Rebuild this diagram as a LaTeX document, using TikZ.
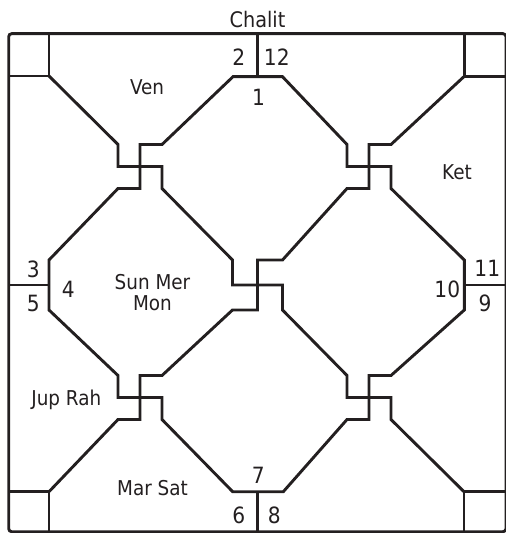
\documentclass[tikz,border=0pt]{standalone}
\usepackage{fontspec}
\setmainfont{DejaVu Sans Condensed}
\definecolor{ink}{RGB}{35,31,32}
\begin{document}
\begin{tikzpicture}[x=1bp,y=-1bp,
  ln/.style={draw=ink, line width=2.9bp, line join=miter},
  num/.style={font=\fontsize{22.5}{24}\selectfont, text=ink, inner sep=0pt, anchor=base},
  pl/.style={font=\fontsize{20.5}{22}\selectfont, text=ink, inner sep=0pt, anchor=base},
  ttl/.style={font=\fontsize{21.5}{24}\selectfont, text=ink, inner sep=0pt, anchor=base}]
\useasboundingbox (0,0) rectangle (506,533);
\clip (0,0) rectangle (506,533);
% frame corners
\coordinate (fTL) at (8.7,33.7);
\coordinate (fBR) at (506,531.7);
% corner squares
\coordinate (sTL) at (49,76);
\coordinate (sTR) at (464.3,76.3);
\coordinate (sBL) at (49,491.7);
\coordinate (sBR) at (464,491.7);
% inner octagon vertices
\coordinate (oT1) at (233,76.7);   \coordinate (oT2) at (282.5,76.7);
\coordinate (oL1) at (49,260);     \coordinate (oL2) at (49,310);
\coordinate (oR1) at (464.3,260);  \coordinate (oR2) at (464.3,310);
\coordinate (oB1) at (232.7,491.7);\coordinate (oB2) at (283.3,491.7);

% outer frame
\draw[ln, rounded corners=3bp] (fTL) rectangle (fBR);
% corner squares
\draw[ln] (8.7,76) -- (sTL) -- (49,33.7);
\draw[ln] (506,76.3) -- (sTR) -- (464.3,33.7);
\draw[ln] (8.7,491.7) -- (sBL) -- (49,531.7);
\draw[ln] (506,491.7) -- (sBR) -- (464,531.7);
% spokes
\draw[ln] (257.5,33.7) -- (257.5,76.7);
\draw[ln] (8.7,285) -- (49,285);
\draw[ln] (464.3,285) -- (506,285);
\draw[ln] (257.5,491.7) -- (257.5,531.7);

% main diagonal TL -> BR (horizontal strokes of TL, centre, BR)
\draw[ln] (sTL) -- (118,144.5) -- (118,166.5) -- (162,166.5) -- (162,188.5)
  -- (232.5,260) -- (232.5,285) -- (282.5,285) -- (282.5,310)
  -- (347,375.5) -- (347,397.5) -- (391,397.5) -- (391,419.5) -- (sBR);
% main diagonal TR -> BL (vertical strokes of TR, centre, BL)
\draw[ln] (sTR) -- (391,144.5) -- (369,144.5) -- (369,188.5) -- (347,188.5)
  -- (282.5,260) -- (257.5,260) -- (257.5,310) -- (232.5,310)
  -- (162,375.5) -- (140,375.5) -- (140,419.5) -- (118,419.5) -- (sBL);
% inner ring
\draw[ln] (oL1) -- (118,188.5) -- (140,188.5) -- (140,144.5) -- (162,144.5)
  -- (oT1) -- (oT2) -- (347,144.5) -- (347,166.5) -- (391,166.5) -- (391,188.5)
  -- (oR1) -- (oR2) -- (391,375.5) -- (369,375.5) -- (369,419.5) -- (347,419.5)
  -- (oB2) -- (oB1) -- (162,419.5) -- (162,397.5) -- (118,397.5) -- (118,375.5)
  -- (oL2) -- cycle;

% texts
\node[ttl] (title) at (257.5,27.3) {Chalit};
\node[pl] (ven) at (147,94.3) {Ven};
\node[num] (h2) at (238.8,66) {2};
\node[num] (h12) at (276.8,66) {12};
\node[num] (h1) at (258.5,106) {1};
\node[pl] (ket) at (457,179.3) {Ket};
\node[num] (h3) at (33.3,277.7) {3};
\node[num] (h5) at (33.3,311.7) {5};
\node[num] (h4) at (68.3,297.3) {4};
\node[pl] (sunmer) at (152.5,289.3) {Sun Mer};
\node[pl] (mon) at (152.5,310) {Mon};
\node[num] (h11) at (487.3,276.7) {11};
\node[num] (h10) at (447.3,297.3) {10};
\node[num] (h9) at (485,311.7) {9};
\node[pl] (juprah) at (66.3,405) {Jup Rah};
\node[pl] (marsat) at (152.5,495) {Mar Sat};
\node[num] (h7) at (258.3,483.3) {7};
\node[num] (h6) at (238.8,523.3) {6};
\node[num] (h8) at (274.3,523.3) {8};
\end{tikzpicture}
\end{document}
